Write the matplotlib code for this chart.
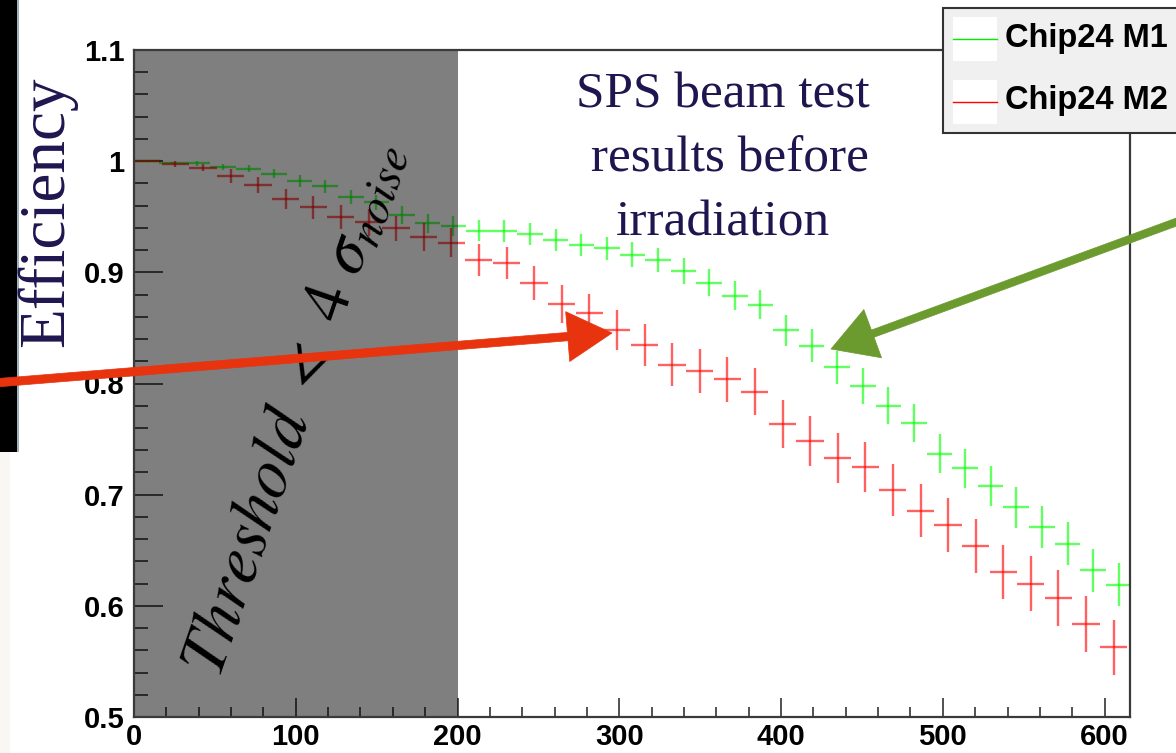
import matplotlib
matplotlib.use('Agg')
import matplotlib.pyplot as plt
from matplotlib.patches import Rectangle, FancyArrowPatch
from matplotlib.lines import Line2D
from matplotlib.ticker import MultipleLocator, FuncFormatter

# ---------------- data ----------------
series_names = ["Chip24 M1", "Chip24 M2"]

m1_x = [7.5, 23.3, 39.1, 54.9, 70.8, 86.6, 102.4, 118.2, 134.1, 149.9, 165.7,
        181.5, 197.4, 213.2, 229.0, 244.8, 260.6, 276.5, 292.3, 308.1, 323.9,
        339.8, 355.6, 371.4, 387.2, 403.0, 418.9, 434.7, 450.5, 466.3, 482.2,
        498.0, 513.8, 529.6, 545.4, 561.3, 577.1, 592.9, 608.7]
m1_y = [1.000, 0.9985, 0.998, 0.995, 0.9934, 0.9886, 0.982, 0.9775, 0.968,
        0.963, 0.9514, 0.944, 0.942, 0.9373, 0.9373, 0.9344, 0.929, 0.9245,
        0.9215, 0.916, 0.911, 0.901, 0.8906, 0.879, 0.871, 0.848, 0.834,
        0.8145, 0.798, 0.780, 0.7644, 0.737, 0.7237, 0.708, 0.6886, 0.671,
        0.656, 0.632, 0.619]
m1_yerr = [0.0005, 0.001, 0.002, 0.0025, 0.003, 0.004, 0.0052, 0.0057, 0.0064,
           0.0067, 0.0082, 0.0085, 0.009, 0.0094, 0.0097, 0.0097, 0.010, 0.010,
           0.0106, 0.011, 0.011, 0.0117, 0.0123, 0.013, 0.0127, 0.014, 0.0147,
           0.015, 0.016, 0.0165, 0.0168, 0.0177, 0.0177, 0.018, 0.0184, 0.019,
           0.0192, 0.0192, 0.0195]
m1_xerr = 7.9

m2_x = [8.5, 25.6, 42.6, 59.7, 76.7, 93.8, 110.9, 127.9, 145.0, 162.0, 179.1,
        196.2, 213.2, 230.3, 247.3, 264.4, 281.5, 298.5, 315.6, 332.6, 349.7,
        366.8, 383.8, 400.9, 417.9, 435.0, 452.1, 469.1, 486.2, 503.2, 520.3,
        537.4, 554.4, 571.5, 588.5, 605.6]
m2_y = [1.000, 0.9973, 0.9943, 0.9868, 0.979, 0.9658, 0.9584, 0.950, 0.9449,
        0.9395, 0.932, 0.9265, 0.911, 0.9085, 0.890, 0.8714, 0.8636, 0.848,
        0.8345, 0.817, 0.8114, 0.8037, 0.7925, 0.7638, 0.7485, 0.733, 0.725,
        0.704, 0.6855, 0.6727, 0.654, 0.6304, 0.620, 0.607, 0.5836, 0.5627]
m2_yerr = [0.0005, 0.0025, 0.0035, 0.006, 0.0072, 0.009, 0.0105, 0.011, 0.012,
           0.0115, 0.0127, 0.013, 0.0147, 0.0147, 0.0153, 0.017, 0.017, 0.018,
           0.0187, 0.0195, 0.020, 0.0205, 0.021, 0.0216, 0.0223, 0.0225, 0.0225,
           0.0234, 0.0237, 0.024, 0.0243, 0.0246, 0.0247, 0.025, 0.025, 0.025]
m2_xerr = 8.4

threshold_limit = 200          # shaded region end
x_ticks = [0, 100, 200, 300, 400, 500, 600]
y_ticks = [0.5, 0.6, 0.7, 0.8, 0.9, 1.0, 1.1]
title_lines = ["SPS beam test", " results before", "irradiation"]
ylabel = "Efficiency"
region_label = r"$Threshold\ <\ 4\ \sigma_{noise}$"

# ---------------- figure ----------------
plt.rcParams['mathtext.fontset'] = 'stix'
W, H = 1176, 753
fig = plt.figure(figsize=(W / 100, H / 100), dpi=100)
fig.patch.set_facecolor('white')


def fx(px):
    return px / W


def fy(py):
    return 1 - py / H


# cropped-screenshot remnants at the left edge
fig.add_artist(Rectangle((0, fy(753)), fx(10), fy(452) - fy(753), transform=fig.transFigure,
                         facecolor='#f8f7f4', edgecolor='none', zorder=0.1))
fig.add_artist(Rectangle((0, fy(452)), fx(19), 1 - fy(452), transform=fig.transFigure,
                         facecolor='#9fb0bb', edgecolor='none', zorder=0.1))
fig.add_artist(Rectangle((0, fy(452)), fx(17), 1 - fy(452), transform=fig.transFigure,
                         facecolor='black', edgecolor='none', zorder=0.2))

ax = fig.add_axes([fx(134), fy(717), fx(1130) - fx(134), fy(50) - fy(717)])
ax.set_xlim(0, 615.7)
ax.set_ylim(0.5, 1.1)

ax.errorbar(m1_x, m1_y, xerr=m1_xerr, yerr=m1_yerr, fmt='none', ecolor='#00ff00',
            alpha=0.62, elinewidth=1.7, capsize=0, zorder=3)
ax.errorbar(m2_x, m2_y, xerr=m2_xerr, yerr=m2_yerr, fmt='none', ecolor='#ff0000',
            alpha=0.62, elinewidth=1.7, capsize=0, zorder=3)

ax.axvspan(0, threshold_limit, facecolor='black', alpha=0.5, lw=0, zorder=4)

ax.xaxis.set_major_locator(plt.FixedLocator(x_ticks))
ax.xaxis.set_minor_locator(MultipleLocator(20))
ax.yaxis.set_major_locator(plt.FixedLocator(y_ticks))
ax.yaxis.set_major_formatter(FuncFormatter(lambda v, p: '%g' % round(v, 3)))
ax.yaxis.set_minor_locator(MultipleLocator(0.02))
ax.tick_params(which='both', direction='in', top=False, right=False,
               colors='#333333', width=1.2, labelcolor='black', labelsize=21)
ax.tick_params(axis='y', which='major', length=21, pad=7)
ax.tick_params(axis='y', which='minor', length=10)
ax.tick_params(axis='x', which='major', length=14, pad=4)
ax.tick_params(axis='x', which='minor', length=7)
for lab in ax.get_xticklabels() + ax.get_yticklabels():
    lab.set_fontfamily('Liberation Sans')
    lab.set_fontweight('bold')
for sp in ax.spines.values():
    sp.set_linewidth(1.6)
    sp.set_color('#3a3a3a')
    sp.set_zorder(5)

# y label
fig.text(fx(47), fy(212), ylabel, rotation=90, ha='center', va='center',
         fontsize=47, family='Liberation Serif', color='#1f1650')

# title text
navy = '#1f1650'
for line, base in zip(title_lines, [107, 171, 235]):
    fig.text(fx(723), fy(base), line, ha='center', va='baseline', fontsize=37,
             family='Liberation Serif', color=navy, zorder=6)

# rotated region label
fig.text(fx(293), fy(408), region_label, rotation=71, rotation_mode='anchor',
         ha='center', va='center', fontsize=49, color='black', zorder=8)

# hand-drawn style arrows
fig.add_artist(FancyArrowPatch((fx(-6), fy(383)), (fx(612), fy(333)), transform=fig.transFigure,
                               arrowstyle='simple,head_length=32,head_width=36,tail_width=6',
                               mutation_scale=1, shrinkA=0, shrinkB=0,
                               facecolor='#e8330f', edgecolor='#e8330f', lw=0.5, zorder=20))
fig.add_artist(FancyArrowPatch((fx(1182), fy(220)), (fx(831), fy(349)), transform=fig.transFigure,
                               arrowstyle='simple,head_length=32,head_width=37,tail_width=5.5',
                               mutation_scale=1, shrinkA=0, shrinkB=0,
                               facecolor='#6b9a2e', edgecolor='#6b9a2e', lw=0.5, zorder=20))

# legend (ROOT style box, cut at right edge)
fig.add_artist(Rectangle((fx(943), fy(133)), fx(1190) - fx(943), fy(8) - fy(133),
                         transform=fig.transFigure, facecolor='#f0f0f0',
                         edgecolor='#333333', lw=1.5, zorder=10))
for name, col, yc in zip(series_names, ['#00ee00', '#ff0000'], [39, 102]):
    fig.add_artist(Rectangle((fx(953), fy(yc + 22)), fx(997) - fx(953), fy(yc - 22) - fy(yc + 22),
                             transform=fig.transFigure, facecolor='white', edgecolor='none', zorder=11))
    fig.add_artist(Line2D([fx(953), fx(997)], [fy(yc), fy(yc)], transform=fig.transFigure,
                          color=col, lw=1.0, zorder=12))
    fig.text(fx(1005), fy(yc - 1), name, ha='left', va='center', fontsize=23.5,
             fontweight='bold', family='Liberation Sans', color='black', zorder=12)

fig.savefig('out.png', dpi=100)
